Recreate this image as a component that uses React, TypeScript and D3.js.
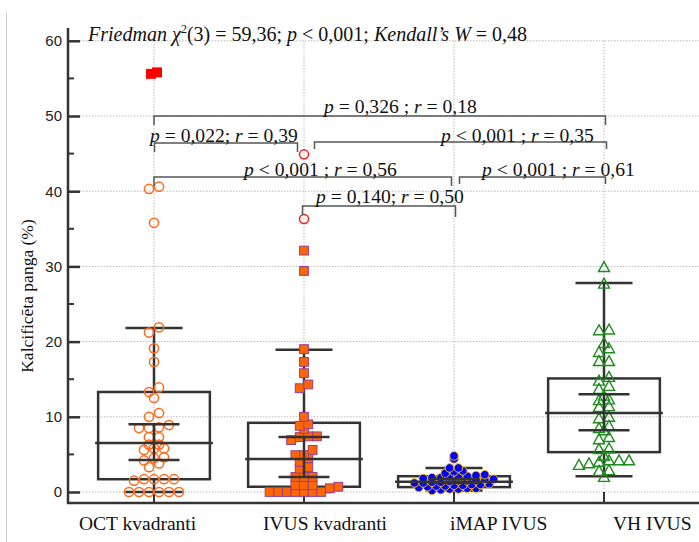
import React, { useEffect, useRef } from "react";
import * as d3 from "d3";

const categories = ["OCT kvadranti", "IVUS kvadranti", "iMAP IVUS", "VH IVUS"];

// values (%)
const octValues = [
  0, 0, 0, 0, 0, 0, 1.5, 1.7, 1.7, 1.7, 1.7, 3.3, 3.8, 4.2, 4.5, 4.6, 5.6, 5.8, 5.8, 6.3, 6.3,
  7.3, 7.3, 8.5, 8.5, 8.6, 8.9, 10.0, 10.5, 12.5, 13.3, 13.9, 17.3, 19.1, 21.2, 21.9, 35.8, 40.3, 40.6,
];
const octExtremes = [55.6, 55.8];
const ivusValues = [
  0, 0, 0, 0, 0, 0, 0, 0.5, 0.7, 0.9, 0.9, 0.9, 2.0, 2.0, 2.0, 3.1, 3.3, 4.0, 4.5, 4.9, 4.9, 5.6,
  6.9, 7.3, 7.4, 7.4, 8.4, 8.8, 9.0, 10.0, 13.8, 14.3, 15.8, 17.3, 19.0, 29.4, 32.1,
];
const ivusOutliers = [36.3, 44.9];
const imapValues = [
  0.2, 0.3, 0.4, 0.4, 0.5, 0.5, 0.6, 0.7, 0.8, 0.8, 0.9, 0.9, 1.0, 1.0, 1.1, 1.2, 1.2, 1.3, 1.3,
  1.4, 1.5, 1.5, 1.6, 1.7, 1.7, 1.8, 1.9, 1.9, 2.0, 2.0, 2.1, 2.2, 2.3, 2.5, 2.7, 2.8, 3.2, 3.2, 4.4, 4.8,
];
const vhValues = [
  2.0, 2.8, 2.9, 3.6, 3.8, 4.0, 4.2, 4.2, 4.2, 4.8, 5.7, 5.8, 7.0, 7.3, 8.2, 8.5, 8.8, 9.8, 10.0,
  11.3, 11.4, 12.2, 12.3, 12.8, 13.7, 14.1, 14.8, 15.3, 17.4, 17.4, 18.6, 19.1, 19.8, 21.5, 21.6, 27.7, 29.9,
];

// box summaries per category
const whiskerLow = [0, 0, 0.2, 2.1];
const q1 = [1.7, 0.7, 0.65, 5.3];
const median = [6.5, 4.4, 1.35, 10.5];
const q3 = [13.3, 9.2, 2.1, 15.1];
const whiskerHigh = [21.8, 18.9, 3.2, 27.8];
const ciLow = [4.25, 2.0, 1.2, 8.2];
const ciHigh = [9.0, 7.3, 1.75, 13.0];

const yTicks = [0, 10, 20, 30, 40, 50, 60];
const yMinor = [5, 15, 25, 35, 45, 55];

// pairwise tests
const pairFrom = [0, 0, 1, 0, 2, 1];
const pairTo = [3, 1, 3, 2, 3, 2];
const pairP = ["= 0,326 ; ", "= 0,022; ", "< 0,001 ; ", "< 0,001 ; ", "< 0,001 ; ", "= 0,140; "];
const pairR = ["= 0,18", "= 0,39", "= 0,35", "= 0,56", "= 0,61", "= 0,50"];

// bracket layout: line y, end offsets, drops, text start / baseline
const bracketLayout = [
  { y: 116, dx0: 0, dx1: 1.5, d0: 9, d1: 9, tx: 324, ty: 113 },
  { y: 143, dx0: 0.5, dx1: -6.5, d0: 9, d1: 9, tx: 150, ty: 142 },
  { y: 142, dx0: 10.5, dx1: 2.5, d0: 7, d1: 7, tx: 441, ty: 142 },
  { y: 177, dx0: 0, dx1: -2.5, d0: 9, d1: 9, tx: 244, ty: 176 },
  { y: 177, dx0: 5.5, dx1: 1.5, d0: 7, d1: 7, tx: 482, ty: 176 },
  { y: 206, dx0: -1.5, dx1: 1.5, d0: 9, d1: 11, tx: 316, ty: 203 },
];
const labelStart = [79, 263, 450, 613];

const SERIF = "'Liberation Serif', 'Times New Roman', serif";
const SANS = "'Liberation Sans', Arial, sans-serif";
const BOX = "#333";

// Origin-like dot layout: bin values, spread each bin centered
function swarm(values: number[], binW: number, shift: number, spacing: number) {
  const bins = d3.group(values, (v) => Math.floor((v + shift) / binW + 1e-9));
  const out: { v: number; dx: number }[] = [];
  bins.forEach((arr) => {
    const s = arr.slice().sort((a, b) => a - b);
    s.forEach((v, k) => out.push({ v, dx: (k - (s.length - 1) / 2) * spacing }));
  });
  return out;
}

const App = () => {
  const width = 699;
  const height = 542;
  const axisRef = useRef<SVGGElement>(null);

  const x = d3.scaleBand().domain(categories).range([79, 679]);
  const y = d3.scaleLinear().domain([0, 60]).range([492, 40.8]);
  const cx = (i: number) => (x(categories[i]) as number) + x.bandwidth() / 2;

  useEffect(() => {
    const g = d3.select(axisRef.current);
    g.selectAll("*").remove();
    g.call(d3.axisLeft(y).tickValues(yTicks).tickSize(-12).tickSizeOuter(0).tickPadding(6) as any);
    g.select(".domain").remove();
    g.selectAll(".tick line").attr("stroke", BOX).attr("stroke-width", 2.5);
    g.selectAll(".tick text")
      .attr("font-family", SANS)
      .attr("font-size", 15)
      .attr("fill", "#222");
  }, []);

  const boxW = x.bandwidth() * 0.745;
  const capW = 57;
  const ciW = 51;

  const oct = swarm(octValues, 1, 0, 10);
  const octX = swarm(octExtremes, 1, 0, 6);
  const ivus = swarm(ivusValues, 1, 0.25, 8.6);
  const ivusO = swarm(ivusOutliers, 1, 0, 8);
  const imap = swarm(imapValues, 0.6, 0, 8.8);
  const vh = swarm(vhValues, 1, 0.5, 10);

  const tri = (px: number, py: number) => {
    const s = 5.5;
    return `M${px},${py - s}L${px + s},${py + s * 0.8}L${px - s},${py + s * 0.8}Z`;
  };

  return (
    <svg
      width={width}
      height={height}
      style={{ position: "absolute", left: 0, top: 0, background: "#fff" }}
    >
      <line x1={6.5} x2={6.5} y1={12} y2={height} stroke="#ccc" strokeWidth={1} />

      {/* grid */}
      <g stroke="#bbb" strokeWidth={1} strokeDasharray="1.5,1.5">
        {yTicks.map((t) => (
          <line key={"h" + t} x1={80} x2={width} y1={y(t)} y2={y(t)} />
        ))}
        {categories.map((c, i) => (
          <line key={"v" + c} x1={cx(i)} x2={cx(i)} y1={y(60)} y2={y(0)} />
        ))}
      </g>

      {/* axes */}
      <g ref={axisRef} transform="translate(68,0)" />
      {yMinor.map((t) => (
        <line key={"m" + t} x1={68} x2={74} y1={y(t)} y2={y(t)} stroke={BOX} strokeWidth={2} />
      ))}
      <line x1={68} x2={68} y1={28} y2={504} stroke={BOX} strokeWidth={2.5} />
      <line x1={67} x2={width} y1={503} y2={503} stroke={BOX} strokeWidth={2.5} />
      {categories.map((c, i) => (
        <line key={"xt" + c} x1={cx(i)} x2={cx(i)} y1={503} y2={492} stroke={BOX} strokeWidth={2} />
      ))}

      {/* boxes and whiskers */}
      <g stroke={BOX} strokeWidth={2.5} fill="none">
        {categories.map((c, i) => (
          <g key={"b" + c}>
            <rect x={cx(i) - boxW / 2} y={y(q3[i])} width={boxW} height={y(q1[i]) - y(q3[i])} />
            <line x1={cx(i)} x2={cx(i)} y1={y(q3[i])} y2={y(whiskerHigh[i])} />
            <line x1={cx(i)} x2={cx(i)} y1={y(q1[i])} y2={y(whiskerLow[i])} />
            <line x1={cx(i) - capW / 2} x2={cx(i) + capW / 2} y1={y(whiskerHigh[i])} y2={y(whiskerHigh[i])} />
            <line x1={cx(i) - capW / 2} x2={cx(i) + capW / 2} y1={y(whiskerLow[i])} y2={y(whiskerLow[i])} />
          </g>
        ))}
      </g>

      {/* points */}
      <g>
        {oct.map((d, k) => (
          <circle key={"o" + k} cx={cx(0) + d.dx} cy={y(d.v)} r={4.6} fill="none" stroke="#ff6a1a" strokeWidth={1.5} />
        ))}
        {octX.map((d, k) => (
          <rect key={"ox" + k} x={cx(0) + d.dx - 5} y={y(d.v) - 5} width={10} height={10} fill="#ff0000" />
        ))}
        {ivus.map((d, k) => (
          <rect
            key={"i" + k}
            x={cx(1) + d.dx - 4.4}
            y={y(d.v) - 4.4}
            width={8.8}
            height={8.8}
            fill="#ff6600"
            stroke="#9c3d8c"
            strokeWidth={1}
          />
        ))}
        {ivusO.map((d) => (
          <circle key={"io" + d.v} cx={cx(1)} cy={y(d.v)} r={4.5} fill="none" stroke="#ff1a1a" strokeWidth={1.5} />
        ))}
        {imap.map((d, k) => (
          <circle key={"m" + k} cx={cx(2) + d.dx} cy={y(d.v)} r={4.3} fill="#0000ff" stroke="#ffc000" strokeWidth={1} />
        ))}
        {vh.map((d, k) => (
          <path key={"v" + k} d={tri(cx(3) + d.dx, y(d.v))} fill="none" stroke="#1f8a1f" strokeWidth={1.4} />
        ))}
      </g>

      {/* medians and inner intervals */}
      <g stroke={BOX} strokeWidth={2.5}>
        {categories.map((c, i) => (
          <g key={"md" + c}>
            <line x1={cx(i) - boxW / 2 - 3} x2={cx(i) + boxW / 2 + 3} y1={y(median[i])} y2={y(median[i])} />
            <line x1={cx(i)} x2={cx(i)} y1={y(ciLow[i])} y2={y(ciHigh[i])} />
            <line x1={cx(i) - ciW / 2} x2={cx(i) + ciW / 2} y1={y(ciLow[i])} y2={y(ciLow[i])} />
            <line x1={cx(i) - ciW / 2} x2={cx(i) + ciW / 2} y1={y(ciHigh[i])} y2={y(ciHigh[i])} />
          </g>
        ))}
      </g>

      {/* significance brackets */}
      <g>
        {pairFrom.map((f, k) => {
          const L = bracketLayout[k];
          const x0 = cx(f) + L.dx0;
          const x1 = cx(pairTo[k]) + L.dx1;
          return (
            <g key={"br" + k}>
              <path
                d={`M${x0},${L.y + L.d0}V${L.y}H${x1}V${L.y + L.d1}`}
                fill="none"
                stroke="#555"
                strokeWidth={1.5}
              />
              <text x={L.tx} y={L.ty} fontFamily={SERIF} fontSize={19.6} fill="#111">
                <tspan fontStyle="italic">p</tspan>
                <tspan>{" " + pairP[k]}</tspan>
                <tspan fontStyle="italic">r</tspan>
                <tspan>{" " + pairR[k]}</tspan>
              </text>
            </g>
          );
        })}
      </g>

      {/* title */}
      <text x={88} y={41} fontFamily={SERIF} fontSize={20} fill="#111">
        <tspan fontStyle="italic">Friedman χ</tspan>
        <tspan fontSize={12.5} dy={-8}>2</tspan>
        <tspan dy={8}>(3) = 59,36; </tspan>
        <tspan fontStyle="italic">p</tspan>
        <tspan> &lt; 0,001; </tspan>
        <tspan fontStyle="italic">Kendall’s W</tspan>
        <tspan> = 0,48</tspan>
      </text>

      {/* axis titles */}
      <text
        transform="translate(33,296) rotate(-90)"
        textAnchor="middle"
        fontFamily={SERIF}
        fontSize={17.5}
        fill="#111"
      >
        Kalcificēta panga (%)
      </text>
      {categories.map((c, i) => (
        <text key={"l" + c} x={labelStart[i]} y={530} fontFamily={SERIF} fontSize={19.5} fill="#111">
          {c}
        </text>
      ))}
    </svg>
  );
};

export default App;
